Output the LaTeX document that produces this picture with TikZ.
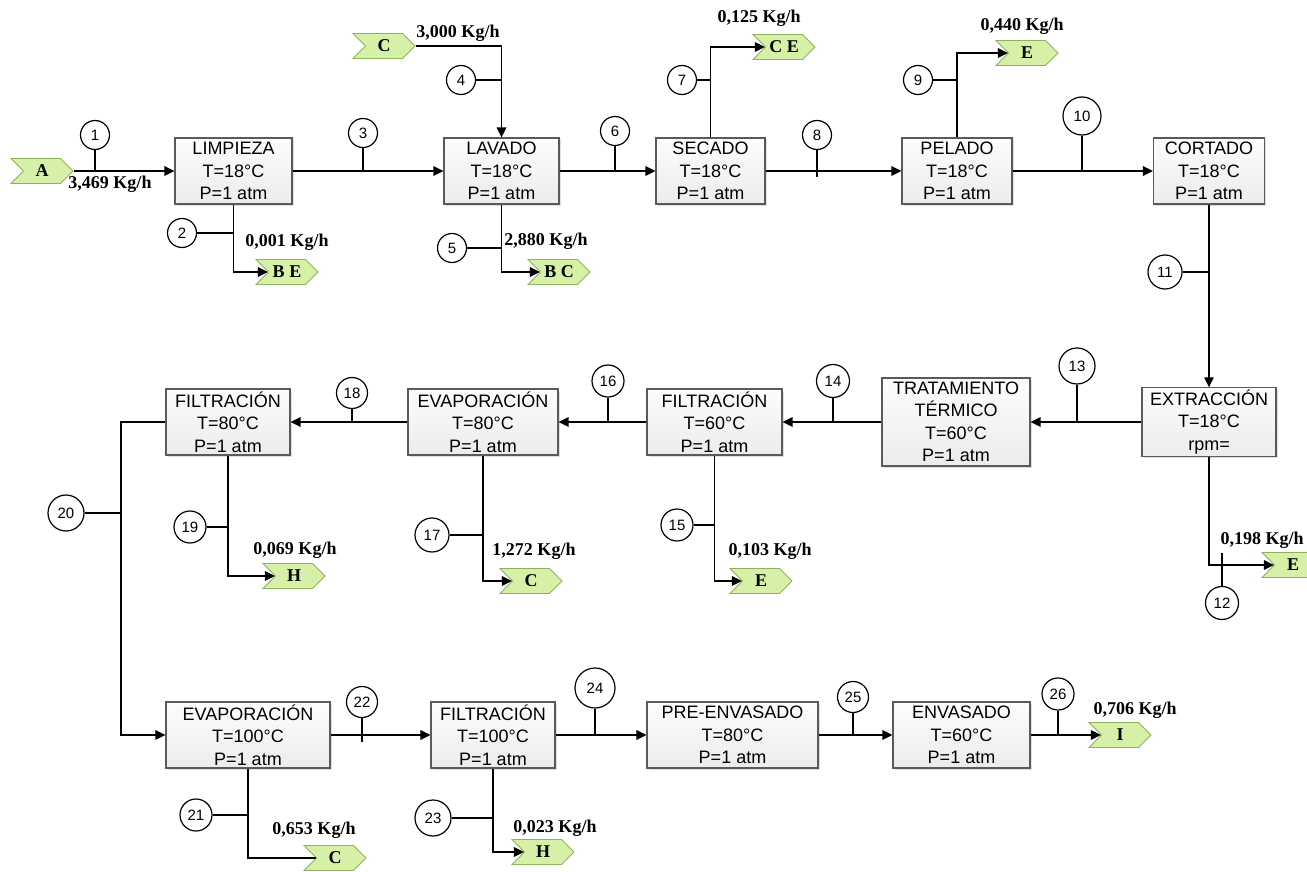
\documentclass[tikz,border=0pt]{standalone}
\usepackage{fontspec}
\setmainfont{Liberation Sans}
\newfontfamily\kgfont{Liberation Serif}
\usetikzlibrary{arrows.meta, shapes.symbols, shadows, calc}
\definecolor{tagfill}{HTML}{D6F0A8}
\definecolor{tagdraw}{HTML}{8FB35A}
\definecolor{boxdraw}{HTML}{5A5A5A}

\begin{document}
\begin{tikzpicture}[
  x=1pt, y=-1pt,
  proc/.style={
    rectangle, draw=boxdraw, line width=1.1pt,
    top color=gray!2, bottom color=gray!15,
    minimum height=66pt, align=center, inner sep=2pt,
    font=\fontsize{18}{22.5}\selectfont,
    drop shadow={shadow xshift=1.5pt, shadow yshift=-1.5pt, opacity=0.25}
  },
  tag/.style={
    signal, signal from=west, signal to=east,
    draw=tagdraw, fill=tagfill, line width=0.8pt,
    minimum width=62pt, minimum height=25pt, inner sep=1pt,
    font=\kgfont\bfseries\fontsize{18}{18}\selectfont
  },
  num/.style={circle, draw, line width=1.2pt, fill=white,
    minimum size=29pt, inner sep=0pt, font=\fontsize{15}{15}\selectfont},
  kg/.style={font=\kgfont\bfseries\fontsize{18}{18}\selectfont, inner sep=0pt},
  flow/.style={line width=1.2pt, -{Triangle[length=10pt,width=9.5pt]}},
  stem/.style={line width=1.2pt}
]
  \useasboundingbox (0,0) rectangle (1307,872);

  % Row 1 of the process
  \node[proc, minimum width=117pt] (limp) at (233.5,171) {LIMPIEZA\\T=18°C\\P=1 atm};
  \node[proc, minimum width=115pt] (lav) at (501.5,171) {LAVADO\\T=18°C\\P=1 atm};
  \node[proc, minimum width=109pt] (sec) at (710.5,171) {SECADO\\T=18°C\\P=1 atm};
  \node[proc, minimum width=110pt] (pel) at (957,171) {PELADO\\T=18°C\\P=1 atm};
  \node[proc, minimum width=111pt] (cort) at (1209,171) {CORTADO\\T=18°C\\P=1 atm};

  % Row 2 (right to left)
  \node[proc, minimum width=134pt] (ext) at (1209,422) {EXTRACCIÓN\\T=18°C\\rpm=};
  \node[proc, minimum width=148pt, minimum height=88pt] (trat) at (956,422)
    {TRATAMIENTO\\TÉRMICO\\T=60°C\\P=1 atm};
  \node[proc, minimum width=135pt] (fil60) at (714.5,422) {FILTRACIÓN\\T=60°C\\P=1 atm};
  \node[proc, minimum width=150pt] (eva80) at (483,422) {EVAPORACIÓN\\T=80°C\\P=1 atm};
  \node[proc, minimum width=124pt] (fil80) at (228,422) {FILTRACIÓN\\T=80°C\\P=1 atm};

  % Row 3
  \node[proc, minimum width=164pt] (eva100) at (248,735) {EVAPORACIÓN\\T=100°C\\P=1 atm};
  \node[proc, minimum width=124pt] (fil100) at (493,735) {FILTRACIÓN\\T=100°C\\P=1 atm};
  \node[proc, minimum width=171pt] (preenv) at (732.5,735) {PRE-ENVASADO\\T=80°C\\P=1 atm};
  \node[proc, minimum width=137pt] (env) at (961.5,735) {ENVASADO\\T=60°C\\P=1 atm};

  % Inlets and outlets
  \node[tag] (tagA) at (42,171) {A};
  \node[tag] (tagC1) at (384,46) {C};
  \node[tag] (tagBE) at (287,272) {B E};
  \node[tag] (tagBC) at (559,272) {B C};
  \node[tag] (tagCE) at (784,47) {C E};
  \node[tag] (tagE1) at (1027,53) {E};
  \node[tag] (tagE2) at (1293,565) {E};
  \node[tag] (tagH1) at (294,576) {H};
  \node[tag] (tagC2) at (531,581) {C};
  \node[tag] (tagE3) at (761,581) {E};
  \node[tag] (tagC3) at (335,858) {C};
  \node[tag] (tagH2) at (543,852) {H};
  \node[tag] (tagI) at (1120,735) {I};

  % Main stream
  \draw[flow] (tagA.east) -- (limp.west);
  \draw[flow] (limp.east) -- (lav.west);
  \draw[flow] (lav.east) -- (sec.west);
  \draw[flow] (sec.east) -- (pel.west);
  \draw[flow] (pel.east) -- (cort.west);
  \draw[flow] (cort.south) -- (ext.north);
  \draw[flow] (ext.west) -- (trat.east);
  \draw[flow] (trat.west) -- (fil60.east);
  \draw[flow] (fil60.west) -- (eva80.east);
  \draw[flow] (eva80.west) -- (fil80.east);
  \coordinate (split) at (121,513);
  \draw[flow] (fil80.west) -| (split) |- (eva100.west);
  \draw[flow] (eva100.east) -- (fil100.west);
  \draw[flow] (fil100.east) -- (preenv.west);
  \draw[flow] (preenv.east) -- (env.west);
  \draw[flow] (env.east) -- (tagI.west);

  % Side streams
  \draw[flow] (tagC1.east) -| (lav.north);
  \draw[flow] (limp.south) |- (tagBE.west);
  \draw[flow] (lav.south) |- (tagBC.west);
  \draw[flow] (sec.north) |- (tagCE.west);
  \draw[flow] (pel.north) |- (tagE1.west);
  \draw[flow] (ext.south) |- (tagE2.west);
  \draw[flow] (fil60.south) |- (tagE3.west);
  \draw[flow] (eva80.south) |- (tagC2.west);
  \draw[flow] (fil80.south) |- (tagH1.west);
  \draw[stem] (eva100.south) |- (tagC3.west);
  \draw[flow] (fil100.south) |- (tagH2.west);

  % Stream numbers
  \node[num] (n1) at (95,135) {1};
  \node[num] (n2) at (182,233) {2};
  \node[num] (n3) at (363,133) {3};
  \node[num] (n4) at (461,80) {4};
  \node[num] (n5) at (452,248) {5};
  \node[num] (n6) at (615,131) {6};
  \node[num] (n7) at (682,80) {7};
  \node[num] (n8) at (817,135) {8};
  \node[num] (n9) at (918,80) {9};
  \node[num, minimum size=38pt] (n10) at (1082,116) {10};
  \node[num, minimum size=34pt] (n11) at (1165,272) {11};
  \node[num, minimum size=33pt] (n12) at (1222,603) {12};
  \node[num, minimum size=36pt] (n13) at (1077,366) {13};
  \node[num, minimum size=33pt] (n14) at (833,381) {14};
  \node[num, minimum size=32pt] (n15) at (677,525) {15};
  \node[num, minimum size=32pt] (n16) at (608,381) {16};
  \node[num, minimum size=34pt] (n17) at (432,535) {17};
  \node[num, minimum size=31pt] (n18) at (352,393) {18};
  \node[num, minimum size=32pt] (n19) at (190,527) {19};
  \node[num, minimum size=36pt] (n20) at (66,513) {20};
  \node[num, minimum size=32pt] (n21) at (196,815) {21};
  \node[num, minimum size=31pt] (n22) at (362,702) {22};
  \node[num, minimum size=36pt] (n23) at (433,818) {23};
  \node[num, minimum size=40pt] (n24) at (595,688) {24};
  \node[num, minimum size=31pt] (n25) at (853,697) {25};
  \node[num, minimum size=32pt] (n26) at (1058,694) {26};

  % Ticks from the numbers to the streams
  \draw[stem] (n1.south) -- (n1.south |- tagA.east);
  \draw[stem] (n2.east) -- (n2.east -| limp.south);
  \draw[stem] (n3.south) -- (n3.south |- limp.east);
  \draw[stem] (n4.east) -- (n4.east -| lav.north);
  \draw[stem] (n5.east) -- (n5.east -| lav.south);
  \draw[stem] (n6.south) -- (n6.south |- lav.east);
  \draw[stem] (n7.east) -- (n7.east -| sec.north);
  \draw[stem] (n8.south) -- ([yshift=-6pt]n8.south |- sec.east);
  \draw[stem] (n9.east) -- (n9.east -| pel.north);
  \draw[stem] (n10.south) -- (n10.south |- pel.east);
  \draw[stem] (n11.east) -- (n11.east -| cort.south);
  \draw[stem] (n12.north) -- ([yshift=12pt]n12.north |- tagE2.west);
  \draw[stem] (n13.south) -- (n13.south |- ext.west);
  \draw[stem] (n14.south) -- (n14.south |- trat.west);
  \draw[stem] (n15.east) -- (n15.east -| fil60.south);
  \draw[stem] (n16.south) -- (n16.south |- fil60.west);
  \draw[stem] (n17.east) -- (n17.east -| eva80.south);
  \draw[stem] (n18.south) -- (n18.south |- eva80.west);
  \draw[stem] (n19.east) -- (n19.east -| fil80.south);
  \draw[stem] (n20.east) -- (split);
  \draw[stem] (n21.east) -- (n21.east -| eva100.south);
  \draw[stem] (n22.south) -- ([yshift=-7pt]n22.south |- eva100.east);
  \draw[stem] (n23.east) -- (n23.east -| fil100.south);
  \draw[stem] (n24.south) -- (n24.south |- fil100.east);
  \draw[stem] (n25.south) -- (n25.south |- preenv.east);
  \draw[stem] (n26.south) -- (n26.south |- env.east);

  % Flow rates
  \node[kg] (kg1) at (110,184) {3,469 Kg/h};
  \node[kg] (kg2) at (287,242) {0,001 Kg/h};
  \node[kg] (kg4) at (458,33) {3,000 Kg/h};
  \node[kg] (kg5) at (546,241) {2,880 Kg/h};
  \node[kg] (kg7) at (759,18) {0,125 Kg/h};
  \node[kg] (kg9) at (1022,26) {0,440 Kg/h};
  \node[kg] (kg12) at (1262,540) {0,198 Kg/h};
  \node[kg] (kg19) at (295,550) {0,069 Kg/h};
  \node[kg] (kg17) at (534,551) {1,272 Kg/h};
  \node[kg] (kg15) at (770,551) {0,103 Kg/h};
  \node[kg] (kg21) at (314,830) {0,653 Kg/h};
  \node[kg] (kg23) at (555,828) {0,023 Kg/h};
  \node[kg] (kg26) at (1135,710) {0,706 Kg/h};
\end{tikzpicture}
\end{document}
